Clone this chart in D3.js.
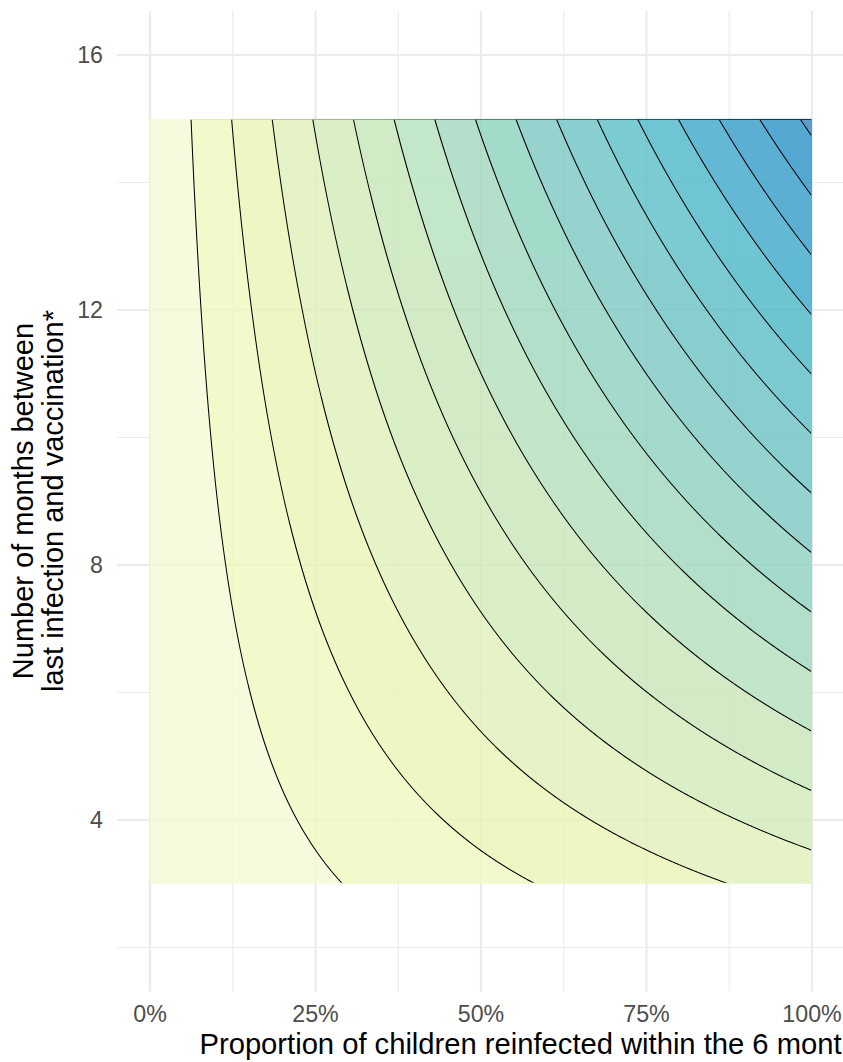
<!DOCTYPE html>
<html>
<head>
<meta charset="utf-8">
<script src="https://cdn.jsdelivr.net/npm/d3@7"></script>
<style>
  html, body { margin: 0; padding: 0; background: #ffffff; overflow: hidden; }
  svg { display: block; font-family: "Liberation Sans", Arial, Helvetica, sans-serif; }
</style>
</head>
<body>
<svg id="chart" width="843" height="1062"></svg>
<script>
// ---------------- data ----------------
// proportion reinfected (x) and months since last infection (y) at which the surface was read
const xVals = [0, 0.25, 0.5, 0.75, 1];
const yVals = [3, 6, 9, 12, 15];
// surface values, one row per yVals entry, one column per xVals entry (contour-level units)
const zRow3  = [0, 0.86, 1.72, 2.57, 3.43];
const zRow6  = [0, 1.66, 3.33, 4.99, 6.65];
const zRow9  = [0, 2.47, 4.93, 7.40, 9.87];
const zRow12 = [0, 3.27, 6.54, 9.81, 13.09];
const zRow15 = [0, 4.08, 8.15, 12.23, 16.30];
const zRows = [zRow3, zRow6, zRow9, zRow12, zRow15];
// contour breaks
const breaks = [1, 2, 3, 4, 5, 6, 7, 8, 9, 10, 11, 12, 13, 14, 15, 16];
// axis ticks
const xTicks = [0, 0.25, 0.5, 0.75, 1];
const xTickLabels = ["0%", "25%", "50%", "75%", "100%"];
const xMinor = [0.125, 0.375, 0.625, 0.875];
const yTicks = [4, 8, 12, 16];
const yMinor = [2, 6, 10, 14];
const xTitle = "Proportion of children reinfected within the 6 mont";
const yTitleLines = ["Number of months between", "last infection and vaccination*"];

// ---------------- styles ----------------
// band colours as they appear (composited over white)
const bandColors = ["#f7fcdd", "#f2f9cb", "#eef8c4", "#e5f4c6", "#dbf0c6", "#d2ecc7",
  "#c4e7c9", "#b3e0cb", "#a4dbcc", "#97d4ce", "#89cfd0", "#7ccbd2", "#6fc5d3",
  "#63b9d4", "#5bb0d3", "#54a8d1", "#5c9ecb"];
const fillAlpha = 0.8;
function underlying(hex) {
  const c = d3.rgb(hex);
  const f = v => Math.max(0, Math.min(255, (v - 255 * (1 - fillAlpha)) / fillAlpha));
  return d3.rgb(f(c.r), f(c.g), f(c.b)).formatHex();
}

const svg = d3.select("#chart");

const x = d3.scaleLinear().domain([0, 1]).range([150, 812]);
const y = d3.scaleLinear().domain([4, 16]).range([820, 55]);
// panel limits (data range expanded by 5%)
const px0 = x(-0.05), px1 = x(1.05);
const pyTop = y(16.69), pyBot = y(1.307);

// ---------------- grid ----------------
const grid = svg.append("g");
grid.selectAll("line.vminor").data(xMinor).join("line")
  .attr("x1", d => x(d)).attr("x2", d => x(d)).attr("y1", pyTop).attr("y2", pyBot)
  .attr("stroke", "#ebebeb").attr("stroke-width", 1.1);
grid.selectAll("line.hminor").data(yMinor).join("line")
  .attr("y1", d => y(d)).attr("y2", d => y(d)).attr("x1", px0).attr("x2", px1)
  .attr("stroke", "#ebebeb").attr("stroke-width", 1.1);
grid.selectAll("line.vmajor").data(xTicks).join("line")
  .attr("x1", d => x(d)).attr("x2", d => x(d)).attr("y1", pyTop).attr("y2", pyBot)
  .attr("stroke", "#ebebeb").attr("stroke-width", 2.2);
grid.selectAll("line.hmajor").data(yTicks).join("line")
  .attr("y1", d => y(d)).attr("y2", d => y(d)).attr("x1", px0).attr("x2", px1)
  .attr("stroke", "#ebebeb").attr("stroke-width", 2.2);

// ---------------- surface (bilinear rendering of the read table) ----------------
const xMin = d3.min(xVals), xMax = d3.max(xVals);
const yMin = d3.min(yVals), yMax = d3.max(yVals);
function surface(xv, yv) {
  let i = d3.bisectRight(xVals, xv) - 1; i = Math.max(0, Math.min(xVals.length - 2, i));
  let j = d3.bisectRight(yVals, yv) - 1; j = Math.max(0, Math.min(yVals.length - 2, j));
  const tx = (xv - xVals[i]) / (xVals[i + 1] - xVals[i]);
  const ty = (yv - yVals[j]) / (yVals[j + 1] - yVals[j]);
  const a = zRows[j][i], b = zRows[j][i + 1], c = zRows[j + 1][i], d = zRows[j + 1][i + 1];
  return (a * (1 - tx) + b * tx) * (1 - ty) + (c * (1 - tx) + d * tx) * ty;
}
const nx = Math.round(x(xMax) - x(xMin)) + 1;
const ny = Math.round(y(yMin) - y(yMax)) + 1;
const values = new Float64Array(nx * ny);
for (let j = 0; j < ny; j++) {
  const yv = yMax - j * (yMax - yMin) / (ny - 1);
  for (let i = 0; i < nx; i++) {
    const xv = xMin + i * (xMax - xMin) / (nx - 1);
    values[j * nx + i] = surface(xv, yv);
  }
}
const contours = d3.contours().size([nx, ny]).thresholds(breaks)(values);
const proj = d3.geoTransform({
  point(gx, gy) {
    this.stream.point(
      x(xMin + gx * (xMax - xMin) / (nx - 1)),
      y(yMax - gy * (yMax - yMin) / (ny - 1)));
  }
});
const path = d3.geoPath(proj);

const defs = svg.append("defs");
defs.append("clipPath").attr("id", "clipFill").append("rect")
  .attr("x", x(xMin)).attr("y", y(yMax))
  .attr("width", x(xMax) - x(xMin)).attr("height", y(yMin) - y(yMax));
defs.append("clipPath").attr("id", "clipLine").append("rect")
  .attr("x", x(xMin) + 0.9).attr("y", y(yMax) + 0.9)
  .attr("width", x(xMax) - x(xMin) - 1.8).attr("height", y(yMin) - y(yMax) - 1.8);

const fillG = svg.append("g").attr("clip-path", "url(#clipFill)").attr("opacity", fillAlpha);
fillG.append("rect")
  .attr("x", x(xMin)).attr("y", y(yMax))
  .attr("width", x(xMax) - x(xMin)).attr("height", y(yMin) - y(yMax))
  .attr("fill", underlying(bandColors[0]));
fillG.selectAll("path").data(contours).join("path")
  .attr("d", path)
  .attr("fill", (d, k) => underlying(bandColors[k + 1]))
  .attr("stroke", "none");

const lineG = svg.append("g").attr("clip-path", "url(#clipLine)");
lineG.selectAll("path").data(contours).join("path")
  .attr("d", path)
  .attr("fill", "none")
  .attr("stroke", "#000000")
  .attr("stroke-width", 1.05)
  .attr("stroke-linejoin", "round");

// ---------------- axes ----------------
const tickSize = 23.2;
svg.append("g").selectAll("text").data(yTicks).join("text")
  .attr("x", 103).attr("y", d => y(d) + 8.4)
  .attr("text-anchor", "end")
  .attr("font-size", tickSize).attr("fill", "#4d4d4d")
  .text(d => d);
svg.append("g").selectAll("text").data(xTicks).join("text")
  .attr("x", d => x(d)).attr("y", 1022.3)
  .attr("text-anchor", "middle")
  .attr("font-size", tickSize).attr("fill", "#4d4d4d")
  .text((d, i) => xTickLabels[i]);

svg.append("text")
  .attr("x", 199.5).attr("y", 1053.5)
  .attr("text-anchor", "start")
  .attr("font-size", 29.2).attr("fill", "#000000")
  .attr("textLength", 642).attr("lengthAdjust", "spacing")
  .text(xTitle);

const yTitle = svg.append("g");
yTitle.selectAll("text").data(yTitleLines).join("text")
  .attr("transform", (d, i) => `translate(${33.3 + i * 30},501) rotate(-90)`)
  .attr("text-anchor", "middle")
  .attr("font-size", 29).attr("fill", "#000000")
  .text(d => d);
</script>
</body>
</html>
